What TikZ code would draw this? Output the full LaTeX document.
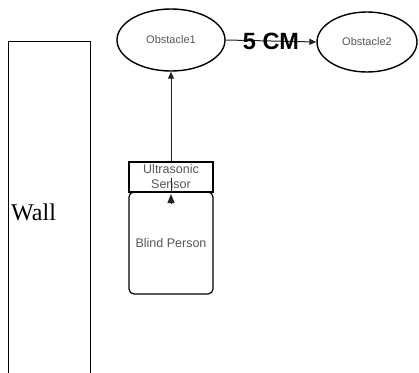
\documentclass[tikz,border=0pt]{standalone}
\usepackage{fontspec}
\setmainfont{Liberation Sans}
\newfontfamily\serifwall{Liberation Serif}
\usetikzlibrary{shapes.geometric,arrows.meta}
\definecolor{labelgray}{HTML}{555555}
\definecolor{linegray}{HTML}{222222}
\tikzset{
  obst/.style={ellipse, draw=black, line width=1.4pt, inner sep=0pt,
    text=labelgray, font=\fontsize{11}{13}\selectfont},
  boxstyle/.style={draw=black, line width=1.2pt, inner sep=0pt,
    text=labelgray, align=center, font=\fontsize{12.5}{15}\selectfont},
  conn/.style={draw=linegray, line width=1pt},
  tip/.style={-{Triangle[length=7pt,width=6pt]}}
}
\begin{document}
\begin{tikzpicture}[x=1pt,y=-1pt]
\useasboundingbox (0,0) rectangle (419,372);
\begin{scope}
\clip (0,0) rectangle (419,372);
% wall
\node[draw=black, line width=0.9pt, minimum width=82pt, minimum height=345pt,
  inner sep=0pt, anchor=north west] (wall) at (8,41) {};
\node[anchor=west, inner sep=0pt, font=\serifwall\fontsize{24}{28}\selectfont] (walltext) at (11,212) {Wall};
% obstacles
\node[obst, minimum width=108pt, minimum height=62pt] (o1) at (171,40) {Obstacle1};
\node[obst, minimum width=100pt, minimum height=60pt] (o2) at (367,42) {Obstacle2};
% sensor & person
\node[boxstyle, minimum width=84pt, minimum height=30pt] (sensor) at (171,177) {Ultrasonic\\Sensor};
\node[boxstyle, rounded corners=5pt, minimum width=84pt, minimum height=102pt] (person) at (171,243) {Blind Person};
% connectors
\draw[conn, tip] (o1.east) -- node[text=black, font=\bfseries\fontsize{23.5}{26}\selectfont, inner sep=0pt] (dist) {5 CM} (o2.west);
\draw[conn, tip] (sensor.north) -- (o1.south);
\coordinate (s1) at (171,178);
\coordinate (s2) at (171,192);
\coordinate (s3) at (171,203);
\coordinate (s4) at (171,194);
\draw[conn] (s1) -- (s2);
\draw[conn, -{Triangle[length=9pt,width=7pt]}] (s3) -- (s4);
\end{scope}
\end{tikzpicture}
\end{document}
